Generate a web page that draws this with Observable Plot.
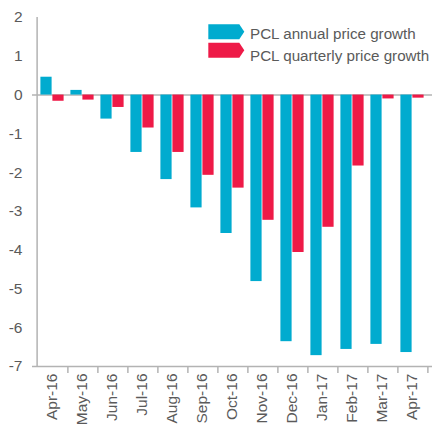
<!DOCTYPE html>
<html>
<head>
<meta charset="utf-8">
<script src="https://cdn.jsdelivr.net/npm/d3@7"></script>
<script src="https://cdn.jsdelivr.net/npm/@observablehq/plot@0.6"></script>
<style>
  html, body { margin: 0; padding: 0; background: #fff; }
  #wrap { position: relative; width: 433px; height: 424px; font-family: "Liberation Sans", Arial, sans-serif; }
  #legend { position: absolute; left: 0; top: 0; pointer-events: none; }
</style>
</head>
<body>
<div id="wrap">
  <div id="chart"></div>
  <svg id="legend" width="433" height="424"></svg>
</div>
<script>
const months = ["Apr-16","May-16","Jun-16","Jul-16","Aug-16","Sep-16","Oct-16","Nov-16","Dec-16","Jan-17","Feb-17","Mar-17","Apr-17"];
const annual = [0.46, 0.12, -0.62, -1.48, -2.18, -2.91, -3.57, -4.81, -6.36, -6.72, -6.56, -6.43, -6.64];
const quarterly = [-0.16, -0.13, -0.32, -0.85, -1.48, -2.07, -2.40, -3.23, -4.06, -3.41, -1.83, -0.10, -0.08];
const seriesNames = ["PCL annual price growth", "PCL quarterly price growth"];
const yTicks = [2, 1, 0, -1, -2, -3, -4, -5, -6, -7];

const blue = "#00abcf";
const red = "#ee1a47";
const colors = [blue, red];
const axisGrey = "#b3b3b3";
const textGrey = "#5a5a5a";

const step = 400 / months.length;

const chart = Plot.plot({
  width: 433,
  height: 424,
  marginLeft: 32,
  marginRight: 1,
  marginTop: 17,
  marginBottom: 58,
  style: { fontFamily: "'Liberation Sans', Arial, sans-serif", background: "#fff" },
  x: { domain: months, padding: 0, axis: null },
  y: { domain: [-7, 2], axis: null },
  marks: [
    Plot.ruleY([0], { stroke: axisGrey, strokeWidth: 1.5 }),
    Plot.barY(months, { x: months, y: annual, fill: blue, insetLeft: 3.4, insetRight: 15.4 }),
    Plot.barY(months, { x: months, y: quarterly, fill: red, insetLeft: 15.4, insetRight: 3.4 }),
    Plot.ruleY([-7], { stroke: axisGrey, strokeWidth: 1.5 }),
    Plot.ruleX([months[0]], { dx: -step / 2, y1: -7, y2: 2, stroke: axisGrey, strokeWidth: 1.5 }),
    Plot.axisY({ ticks: yTicks, tickSize: 0, tickPadding: 10, fontSize: 15.5, fill: textGrey, tickFormat: d => d }),
    Plot.axisX({ tickSize: 7, dx: step / 2, tickFormat: () => "", stroke: axisGrey, strokeWidth: 1.5 }),
    Plot.axisX({ tickSize: 0, tickPadding: 7, tickRotate: -90, fontSize: 15.5, fill: textGrey })
  ]
});
document.getElementById("chart").appendChild(chart);

const legend = d3.select("#legend");
const swatchTops = [24.3, 42.7];
const textBaselines = [39, 60.5];
seriesNames.forEach((name, i) => {
  const g = legend.append("g").attr("transform", `translate(208.3,${swatchTops[i]})`);
  g.append("polygon").attr("points", "0,0 31,0 36,7.5 31,15 0,15").attr("fill", colors[i]);
  legend.append("text")
    .attr("x", 250).attr("y", textBaselines[i])
    .attr("font-family", "'Liberation Sans', Arial, sans-serif")
    .attr("font-size", 15.2).attr("fill", textGrey)
    .text(name);
});
</script>
</body>
</html>
